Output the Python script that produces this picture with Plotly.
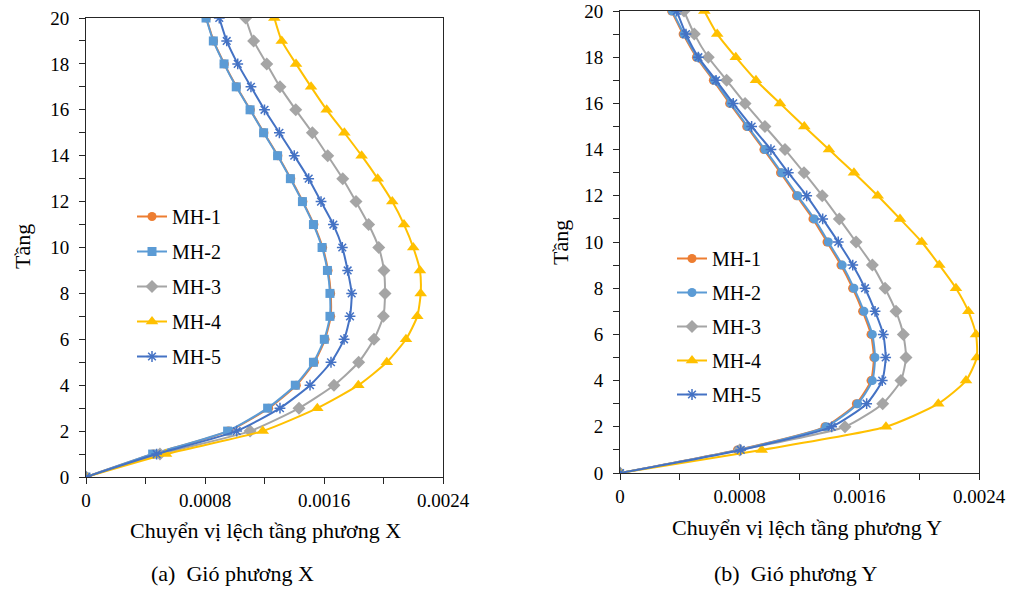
import plotly.graph_objects as go

stories = list(range(0, 21))

# Wind X direction (left panel) - story drift, story 0..20
x_mh1 = [0, 0.000452, 0.000958, 0.001228, 0.001414, 0.001535, 0.001607, 0.001645, 0.001645, 0.001627,
         0.001591, 0.001532, 0.001458, 0.001377, 0.001290, 0.001196, 0.001105, 0.001012, 0.000930, 0.000858, 0.000809]
x_mh2 = [0, 0.000448, 0.000952, 0.001221, 0.001407, 0.001529, 0.001602, 0.001640, 0.001640, 0.001623,
         0.001587, 0.001529, 0.001455, 0.001374, 0.001288, 0.001194, 0.001103, 0.001010, 0.000928, 0.000856, 0.000807]
x_mh3 = [0, 0.000497, 0.001103, 0.001432, 0.001667, 0.001833, 0.001936, 0.001999, 0.002010, 0.002003,
         0.001968, 0.001900, 0.001815, 0.001726, 0.001625, 0.001522, 0.001410, 0.001304, 0.001215, 0.001127, 0.001073]
x_mh4 = [0, 0.000538, 0.001188, 0.001555, 0.001831, 0.002022, 0.002151, 0.002227, 0.002250, 0.002245,
         0.002200, 0.002138, 0.002059, 0.001961, 0.001853, 0.001737, 0.001618, 0.001513, 0.001412, 0.001316, 0.001266]
x_mh5 = [0, 0.000475, 0.001013, 0.001304, 0.001506, 0.001647, 0.001735, 0.001775, 0.001786, 0.001759,
         0.001723, 0.001663, 0.001580, 0.001497, 0.001400, 0.001300, 0.001200, 0.001109, 0.001020, 0.000946, 0.000896]

# Wind Y direction (right panel)
y_mh1 = [0, 0.000785, 0.001370, 0.001580, 0.001678, 0.001697, 0.001678, 0.001622, 0.001555, 0.001477,
         0.001384, 0.001290, 0.001180, 0.001073, 0.000962, 0.000847, 0.000733, 0.000624, 0.000511, 0.000422, 0.000345]
y_mh2 = [0, 0.000791, 0.001377, 0.001589, 0.001687, 0.001705, 0.001687, 0.001631, 0.001564, 0.001486,
         0.001393, 0.001299, 0.001188, 0.001081, 0.000969, 0.000854, 0.000740, 0.000631, 0.000517, 0.000428, 0.000350]
y_mh3 = [0, 0.000800, 0.001504, 0.001756, 0.001878, 0.001912, 0.001894, 0.001845, 0.001772, 0.001687,
         0.001578, 0.001466, 0.001352, 0.001230, 0.001103, 0.000969, 0.000836, 0.000713, 0.000590, 0.000497, 0.000428]
y_mh4 = [0, 0.000947, 0.001778, 0.002128, 0.002313, 0.002385, 0.002380, 0.002329, 0.002246, 0.002135,
         0.002017, 0.001872, 0.001723, 0.001564, 0.001397, 0.001232, 0.001070, 0.000909, 0.000774, 0.000650, 0.000564]
y_mh5 = [0, 0.000807, 0.001415, 0.001649, 0.001753, 0.001776, 0.001760, 0.001705, 0.001638, 0.001556,
         0.001459, 0.001355, 0.001248, 0.001125, 0.001009, 0.000880, 0.000757, 0.000642, 0.000524, 0.000441, 0.000379]

series_names = ["MH-1", "MH-2", "MH-3", "MH-4", "MH-5"]
colors = ["#ED7D31", "#5B9BD5", "#A5A5A5", "#FFC000", "#4472C4"]
symbols_left = ["circle", "square", "diamond", "triangle-up", "asterisk-open"]
symbols_right = ["circle", "circle", "diamond", "triangle-up", "asterisk-open"]
symbol_sizes = {"circle": 9, "square": 9, "diamond": 10, "triangle-up": 11, "asterisk-open": 9}

xtick_vals = [0, 0.0008, 0.0016, 0.0024]
xtick_text = ["0", "0.0008", "0.0016", "0.0024"]
ytick_vals = list(range(0, 21, 2))

x_title_left = "Chuyển vị lệch tầng phương X"
x_title_right = "Chuyển vị lệch tầng phương Y"
y_title = "Tầng"
caption_left = "(a)  Gió phương X"
caption_right = "(b)  Gió phương Y"

FONT = "Times New Roman, Liberation Serif, DejaVu Serif, serif"
W, H = 1014, 589
OFF = 0  # page body margin removed by post_script below


def fx(px):
    return (px - OFF) / W


def fy(py):
    return 1 - (py - OFF) / H


fig = go.Figure()

left_data = [x_mh1, x_mh2, x_mh3, x_mh4, x_mh5]
right_data = [y_mh1, y_mh2, y_mh3, y_mh4, y_mh5]


def marker_for(sym, color):
    mk = dict(symbol=sym, size=symbol_sizes[sym], color=color)
    if sym == "asterisk-open":
        mk["line"] = dict(color=color, width=1.5)
    else:
        mk["line"] = dict(width=0)
    return mk


for i, name in enumerate(series_names):
    fig.add_trace(go.Scatter(
        x=left_data[i], y=stories, mode="lines+markers", name=name,
        line=dict(color=colors[i], width=2, shape="spline", smoothing=0.6),
        marker=marker_for(symbols_left[i], colors[i]),
        xaxis="x", yaxis="y", legend="legend", legendgroup="L" + name,
    ))

for i, name in enumerate(series_names):
    fig.add_trace(go.Scatter(
        x=right_data[i], y=stories, mode="lines+markers", name=name,
        line=dict(color=colors[i], width=2, shape="spline", smoothing=0.6),
        marker=marker_for(symbols_right[i], colors[i]),
        xaxis="x2", yaxis="y2", legend="legend2", legendgroup="R" + name,
    ))

axis_common = dict(
    showgrid=False, zeroline=False, showline=True, linecolor="#262626", linewidth=1,
    mirror=True, ticks="outside", ticklen=6, tickcolor="#262626", automargin=False,
    ticklabeloverflow="allow",
    tickfont=dict(family=FONT, size=19, color="black"),
)
minor_x = dict(dtick=0.0004, tick0=0, ticks="outside", ticklen=6, tickcolor="#262626")
minor_y = dict(dtick=1, tick0=0, ticks="outside", ticklen=6, tickcolor="#262626")

fig.update_layout(
    width=W, height=H,
    margin=dict(l=0, r=0, t=0, b=0, pad=0, autoexpand=False),
    paper_bgcolor="white", plot_bgcolor="white",
    font=dict(family=FONT, color="black"),
    xaxis=dict(domain=[fx(86), fx(443)], range=[0, 0.0024], anchor="y",
               tickmode="array", tickvals=xtick_vals, ticktext=xtick_text,
               minor=minor_x, **axis_common),
    yaxis=dict(domain=[fy(477), fy(18)], range=[0, 20], anchor="x",
               tickmode="array", tickvals=ytick_vals, ticklabelstandoff=6,
               minor=minor_y, **axis_common),
    xaxis2=dict(domain=[fx(620), fx(979)], range=[0, 0.0024], anchor="y2",
                tickmode="array", tickvals=xtick_vals, ticktext=xtick_text,
                minor=minor_x, **axis_common),
    yaxis2=dict(domain=[fy(473), fy(11)], range=[0, 20], anchor="x2",
                tickmode="array", tickvals=ytick_vals, ticklabelstandoff=6,
                minor=minor_y, **axis_common),
    legend=dict(x=fx(132), y=fy(197), xanchor="left", yanchor="top",
                bgcolor="rgba(0,0,0,0)", font=dict(family=FONT, size=20, color="black"),
                tracegroupgap=6, itemwidth=30),
    legend2=dict(x=fx(672), y=fy(239), xanchor="left", yanchor="top",
                 bgcolor="rgba(0,0,0,0)", font=dict(family=FONT, size=20, color="black"),
                 tracegroupgap=5, itemwidth=30),
    showlegend=True,
)

annots = [
    dict(text=x_title_left, x=fx(265), y=fy(530)),
    dict(text=x_title_right, x=fx(807), y=fy(527)),
    dict(text=caption_left, x=fx(232), y=fy(573)),
    dict(text=caption_right, x=fx(795), y=fy(573)),
]
for a in annots:
    fig.add_annotation(xref="paper", yref="paper", showarrow=False,
                       xanchor="center", yanchor="middle",
                       font=dict(family=FONT, size=22, color="black"), **a)

fig.add_annotation(text=y_title, xref="paper", yref="paper", x=fx(22), y=fy(247),
                   showarrow=False, textangle=-90, xanchor="center", yanchor="middle",
                   font=dict(family=FONT, size=22, color="black"))
fig.add_annotation(text=y_title, xref="paper", yref="paper", x=fx(560), y=fy(243),
                   showarrow=False, textangle=-90, xanchor="center", yanchor="middle",
                   font=dict(family=FONT, size=22, color="black"))

fig.write_html(
    "out.html",
    config={"displayModeBar": False},
    post_script="document.body.style.margin='0';document.body.style.padding='0';"
                "document.body.style.overflow='hidden';",
)
